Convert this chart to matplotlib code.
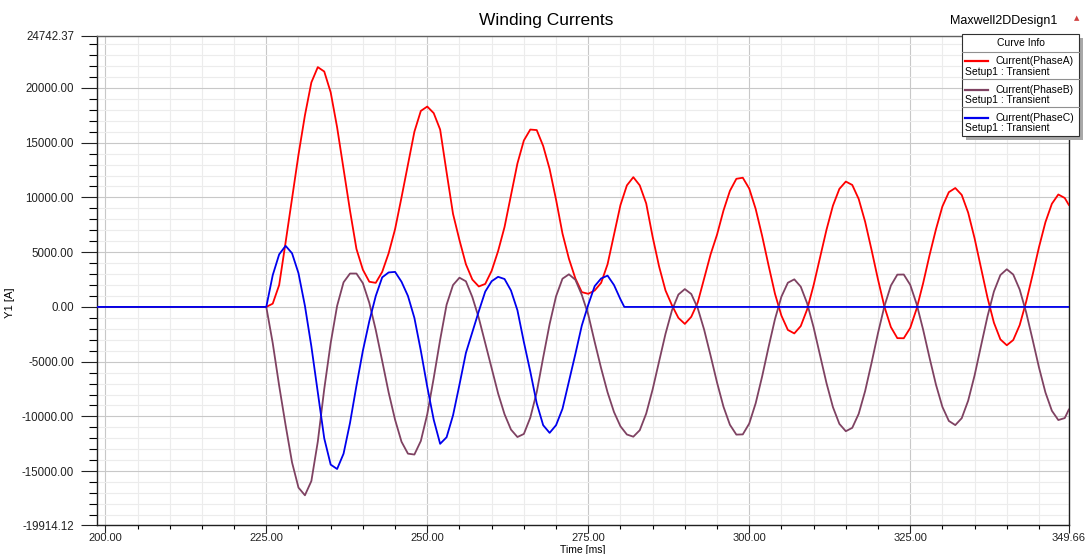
import matplotlib
matplotlib.use("Agg")
import matplotlib.pyplot as plt
from matplotlib.patches import Rectangle
from matplotlib.lines import Line2D
from matplotlib.ticker import FixedLocator, MultipleLocator, FuncFormatter

plt.rcParams['font.family'] = ['Liberation Sans', 'DejaVu Sans']

# sample times [ms]
time_ab = [0.0] + list(range(225, 350)) + [349.66]
time_c = [0.0] + list(range(225, 281)) + [280.6, 349.66]

# Current(PhaseA) [A], t=0 then 225..349 ms, then 349.66
phase_a = [0,
    0, 300, 2000, 5900, 9900, 13900, 17500, 20500, 21900, 21500,          # 225-234
    19600, 16400, 12600, 8800, 5300, 3400, 2300, 2200, 3200, 4900,       # 235-244
    7100, 10000, 13000, 16000, 17900, 18300, 17700, 16200, 12300, 8500,  # 245-254
    6100, 3900, 2500, 1870, 2100, 3300, 5100, 7300, 10200, 13100,        # 255-264
    15200, 16200, 16150, 14700, 12600, 9800, 6700, 4400, 2600, 1350,     # 265-274
    1200, 1500, 2200, 3900, 6600, 9300, 11100, 11850, 11100, 9450,       # 275-284
    6400, 3700, 1500, 150, -1000, -1550, -900, 400, 2600, 4800,          # 285-294
    6600, 8800, 10600, 11700, 11800, 10810, 8950, 6500, 3800, 1200,      # 295-304
    -800, -2100, -2420, -1750, -220, 1990, 4520, 7050, 9250, 10780,      # 305-314
    11450, 11140, 9860, 7780, 5200, 2500, 10, -1840, -2850, -2860,       # 315-324
    -1920, -160, 2150, 4720, 7090, 9180, 10480, 10860, 10230, 8610,      # 325-334
    6260, 3550, 850, -1440, -2960, -3500, -3020, -1660, 460, 2910,       # 335-344
    5460, 7740, 9420, 10270, 9950,                                       # 345-349
    9290]

# Current(PhaseB) [A]
phase_b = [0,
    0, -3300, -7200, -10800, -14200, -16500, -17200, -15900, -12300, -7500,   # 225-234
    -3300, 100, 2250, 3050, 3050, 2170, 370, -2100, -4930, -7810,            # 235-244
    -10300, -12310, -13400, -13480, -12240, -9800, -6500, -3000, 200, 2000,  # 245-254
    2670, 2340, 900, -1000, -3300, -5600, -7900, -9800, -11200, -11880,      # 255-264
    -11600, -10110, -7780, -4620, -1570, 970, 2580, 2980, 2480, 1100,        # 265-274
    -700, -3200, -5600, -7800, -9600, -10900, -11650, -11850, -11260, -9740, # 275-284
    -7530, -4980, -2450, -310, 1130, 1630, 1180, -110, -2080, -4450,         # 285-294
    -6900, -9110, -10760, -11660, -11640, -10650, -8800, -6360, -3670, -1110,# 295-304
    940, 2210, 2520, 1850, 320, -1870, -4420, -6960, -9150, -10680,          # 305-314
    -11350, -11040, -9760, -7680, -5100, -2380, 80, 1950, 2950, 2960,        # 315-324
    2020, 260, -2060, -4640, -7100, -9130, -10410, -10790, -10160, -8560,    # 325-334
    -6250, -3540, -870, 1410, 2910, 3440, 2960, 1590, -480, -2970,           # 335-344
    -5530, -7810, -9480, -10330, -10150,                                     # 345-349
    -9340]

# Current(PhaseC) [A], t=0 then 225..280 ms, 280.6, 349.66
phase_c = [0,
    0, 2900, 4800, 5580, 4900, 3080, 100, -3600, -7800, -12000,          # 225-234
    -14400, -14800, -13400, -10600, -7200, -4000, -1300, 1000, 2700, 3150,  # 235-244
    3200, 2300, 1000, -1000, -4000, -7300, -10300, -12500, -11900, -9900,   # 245-254
    -7100, -4200, -2300, -400, 1400, 2350, 2750, 2550, 1500, -300,          # 255-264
    -3200, -5900, -8800, -10800, -11500, -10800, -9300, -6800, -4300, -1700,  # 265-274
    200, 1900, 2600, 2860, 2000, 700,                                     # 275-280
    0, 0]

series_names = ["Current(PhaseA)", "Current(PhaseB)", "Current(PhaseC)"]
series_colors = ["#ff0000", "#7f4262", "#0000ee"]

x_major = [200, 225, 250, 275, 300, 325, 349.66]
y_major = [-19914.12, -15000, -10000, -5000, 0, 5000, 10000, 15000, 20000, 24742.37]

W, H = 1089, 554
fig = plt.figure(figsize=(W / 100, H / 100), dpi=100)
ax = fig.add_axes([97 / W, 1 - 525 / H, (1069 - 97) / W, (525 - 36) / H])

line_kw = dict(lw=1.3, zorder=3, solid_joinstyle='round', solid_capstyle='round')
ax.plot(time_ab, phase_a, color=series_colors[0], **line_kw)
ax.plot(time_ab, phase_b, color=series_colors[1], **line_kw)
ax.plot(time_c, phase_c, color=series_colors[2], **line_kw)

ax.set_xlim(198.71, 349.66)
ax.set_ylim(y_major[0], y_major[-1])

fmt = FuncFormatter(lambda v, p: f"{v:.2f}")
ax.xaxis.set_major_locator(FixedLocator(x_major))
ax.xaxis.set_minor_locator(MultipleLocator(5))
ax.yaxis.set_major_locator(FixedLocator(y_major))
ax.yaxis.set_minor_locator(MultipleLocator(1000))
ax.xaxis.set_major_formatter(fmt)
ax.yaxis.set_major_formatter(fmt)

ax.grid(which='major', color='#c8c8c8', lw=0.8)
ax.grid(which='minor', color='#ececec', lw=0.8)
ax.set_axisbelow(True)

ax.tick_params(axis='y', which='major', direction='out', length=11.5, width=0.8,
               pad=5, labelsize=8.3, colors='#222222')
ax.tick_params(axis='y', which='minor', direction='out', length=5.5, width=0.8)
ax.tick_params(axis='x', which='major', direction='out', length=6, width=0.8,
               pad=0, labelsize=8, colors='#222222')
ax.tick_params(axis='x', which='minor', direction='out', length=3.2, width=0.8)

for side in ['left', 'bottom', 'right']:
    ax.spines[side].set_color('#202020')
    ax.spines[side].set_linewidth(1.0)
ax.spines['top'].set_color('#606060')
ax.spines['top'].set_linewidth(1.0)


def px(x, y):
    return (x / W, 1 - y / H)


fig.text(*px(546, 20), "Winding Currents", fontsize=12.5, ha='center', va='center')
fig.text(*px(1004, 21), "Maxwell2DDesign1", fontsize=9, ha='center', va='center')
fig.text(*px(1077, 18), "\u25b2", fontsize=5, ha='center', va='center',
         color='#d04040', family=['DejaVu Sans'])
fig.text(*px(583, 550), "Time [ms]", fontsize=7.5, ha='center', va='center')
fig.text(*px(10, 303), "Y1 [A]", fontsize=8, ha='center', va='center', rotation=90)

# legend box "Curve Info"
bx0, by0, bx1, by1 = 962, 34, 1079, 136
fig.add_artist(Rectangle(px(bx0 + 4, by1 + 4), (bx1 - bx0) / W, (by1 - by0) / H,
                         transform=fig.transFigure, facecolor='#a8a8a8',
                         edgecolor='none', zorder=5))
fig.add_artist(Rectangle(px(bx0, by1), (bx1 - bx0) / W, (by1 - by0) / H,
                         transform=fig.transFigure, facecolor='white',
                         edgecolor='#303030', lw=0.8, zorder=6))
fig.text(*px((bx0 + bx1) / 2, 43), "Curve Info", fontsize=7.5, ha='center',
         va='center', zorder=7)
for sep in [51.7, 79.3, 107.3]:
    fig.add_artist(Line2D([bx0 / W, bx1 / W], [1 - sep / H] * 2,
                          transform=fig.transFigure, color='#909090', lw=0.8, zorder=7))
row_y = [61, 89.7, 117.7]
for name, col, ry in zip(series_names, series_colors, row_y):
    fig.add_artist(Line2D([965 / W, 988 / W], [1 - ry / H] * 2,
                          transform=fig.transFigure, color=col, lw=1.6, zorder=7))
    fig.text(*px(1074, ry), name, fontsize=7.5, ha='right', va='center', zorder=7)
    fig.text(*px(965, ry + 10.5), "Setup1 : Transient", fontsize=7.5, ha='left',
             va='center', zorder=7)

fig.savefig("out.png", dpi=100)
